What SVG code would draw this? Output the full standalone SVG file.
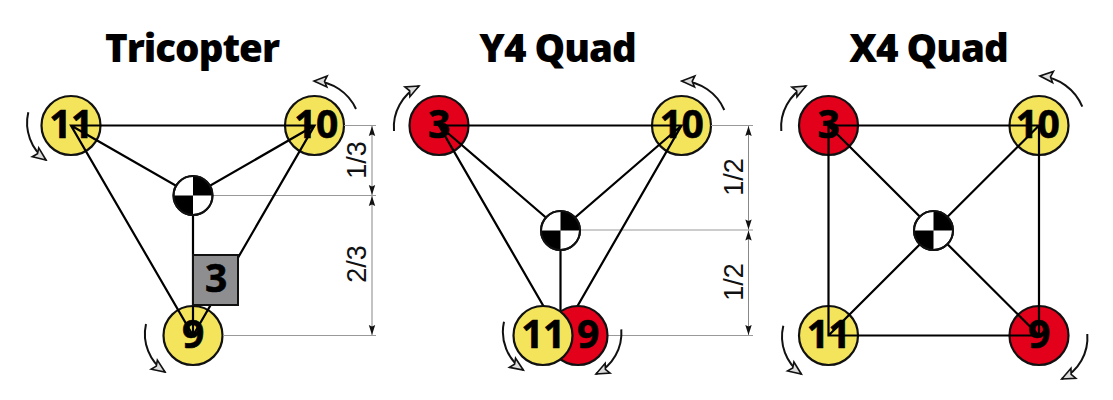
<svg xmlns="http://www.w3.org/2000/svg" width="1113" height="400" viewBox="0 0 1113 400">
<style>
.title{font:800 38.500px "Open Sans",sans-serif;text-anchor:middle;fill:#000;letter-spacing:-1px}
.num{font:700 39px "Open Sans",sans-serif;text-anchor:middle;fill:#000;stroke:#000;stroke-width:.6;letter-spacing:-0.500px}
.dim{font:400 27px "Liberation Sans",sans-serif;text-anchor:middle;fill:#111}
.y{fill:#f4e45c;stroke:#111;stroke-width:2.2}
.r{fill:#e2001a;stroke:#111;stroke-width:2.2}
.arm{stroke:#000;stroke-width:2.200;fill:none}
.gd{stroke:#999;stroke-width:1;fill:none}
.dv{stroke:#888;stroke-width:1;fill:none;marker-start:url(#dh);marker-end:url(#dh)}
.spin{stroke:#111;stroke-width:2;fill:none;marker-end:url(#sp)}
.cg{fill:#fff;stroke:#111;stroke-width:2}
</style>
<defs>
<marker id="sp" markerUnits="userSpaceOnUse" markerWidth="18" markerHeight="16" refX="16" refY="8" orient="auto"><path d="M16 8L3 2.500L5.500 8L3 13.500Z" fill="#ddd" stroke="#111" stroke-width="1.600"/></marker>
<marker id="dh" markerUnits="userSpaceOnUse" markerWidth="12" markerHeight="12" refX="11" refY="6" orient="auto-start-reverse"><path d="M11 6L1 2.800L2.500 6L1 9.200Z" fill="#111"/></marker>
<g id="cgmark"><circle class="cg" r="19.500"/><path d="M0 0V-19.500A19.500 19.500 0 0 1 19.500 0ZM0 0V19.500A19.500 19.500 0 0 1 -19.500 0Z" fill="#000"/><circle r="19.500" fill="none" stroke="#111" stroke-width="2"/></g>
</defs>
<text class="title" x="192" y="62">Tricopter</text>
<text class="title" x="557.500" y="62">Y4 Quad</text>
<text class="title" x="928.500" y="62">X4 Quad</text>

<g id="tri-motor-11"><circle class="y" cx="71" cy="125.500" r="29.500"/><text class="num" x="71" y="138">11</text></g>
<g id="tri-motor-10"><circle class="y" cx="314.500" cy="125.500" r="29.500"/><text class="num" x="316" y="138">10</text></g>
<g id="tri-motor-9"><circle class="y" cx="193" cy="335.500" r="29.500"/><text class="num" x="193" y="348">9</text></g>
<g id="y4-motor-3"><circle class="r" cx="439" cy="125.500" r="29.500"/><text class="num" x="439" y="138">3</text></g>
<g id="y4-motor-10"><circle class="y" cx="681.500" cy="125.500" r="29.500"/><text class="num" x="681.500" y="138">10</text></g>
<g id="x4-motor-3"><circle class="r" cx="828.500" cy="125.500" r="29.500"/><text class="num" x="828.500" y="138">3</text></g>
<g id="x4-motor-10"><circle class="y" cx="1039" cy="125.500" r="29.500"/><text class="num" x="1037.500" y="138">10</text></g>
<g id="x4-motor-11"><circle class="y" cx="828.500" cy="335.500" r="29.500"/><text class="num" x="828.500" y="348">11</text></g>
<g id="x4-motor-9"><circle class="r" cx="1039" cy="335.500" r="29.500"/><text class="num" x="1039" y="348">9</text></g>

<g id="connectors">
<path class="gd" d="M344 125.500H376M213 195.500H376M223 335.500H376"/>
<path class="gd" d="M711 125.500H753M580 230H753M608 335.500H753"/>
<path class="dv" d="M372 126V195"/><path class="dv" d="M372 196V335"/>
<path class="dv" d="M748.500 126V229.500"/><path class="dv" d="M748.500 230.500V335"/>
<path class="arm" d="M71 125.500H314.500L193 335.500ZM71 125.500L193 195.500L314.500 125.500M193 195.500V335.500"/>
<path class="arm" d="M439 125.500H681.500L560.500 335.500ZM439 125.500L560.500 230L681.500 125.500M560.500 230V335.500"/>
<path class="arm" d="M828.500 125.500H1039V335.500H828.500ZM828.500 125.500L1039 335.500M1039 125.500L828.500 335.500"/>
<path class="spin" d="M28.300 112.300A46 46 0 0 0 46 160"/>
<path class="spin" d="M356 109A48 48 0 0 0 314 81"/>
<path class="spin" d="M146 324A46 46 0 0 0 165 372"/>
<path class="spin" d="M394 131A46 46 0 0 1 419 86"/>
<path class="spin" d="M724.300 110A48 48 0 0 0 681.700 81"/>
<path class="spin" d="M504 321.700A46 46 0 0 0 523.300 370"/>
<path class="spin" d="M621.300 329.300A46 46 0 0 1 596 374"/>
<path class="spin" d="M781.300 131A46 46 0 0 1 806 86"/>
<path class="spin" d="M1082.300 106.700A50 50 0 0 0 1040 76"/>
<path class="spin" d="M783.300 325.700A46 46 0 0 0 801.300 374"/>
<path class="spin" d="M1087.300 334A46 46 0 0 1 1061.700 379"/>
</g>

<g id="tri-servo-3"><rect x="193" y="255" width="45" height="50" fill="#8e8e90" stroke="#111" stroke-width="2"/><text class="num" x="216" y="292">3</text></g>
<g id="y4-motor-9"><circle class="r" cx="578" cy="335.500" r="29.500"/><text class="num" x="588" y="348">9</text></g>
<g id="y4-motor-11"><circle class="y" cx="543" cy="335.500" r="29.500"/><text class="num" x="543" y="348">11</text></g>
<g id="tri-cg"><use href="#cgmark" x="193" y="195.500"/></g>
<g id="y4-cg"><use href="#cgmark" x="560.500" y="230.500"/></g>
<g id="x4-cg"><use href="#cgmark" x="933.500" y="230.500"/></g>

<text class="dim" transform="translate(366 160) rotate(-90)">1/3</text>
<text class="dim" transform="translate(366 264) rotate(-90)">2/3</text>
<text class="dim" transform="translate(743 177) rotate(-90)">1/2</text>
<text class="dim" transform="translate(743 282) rotate(-90)">1/2</text>
</svg>
